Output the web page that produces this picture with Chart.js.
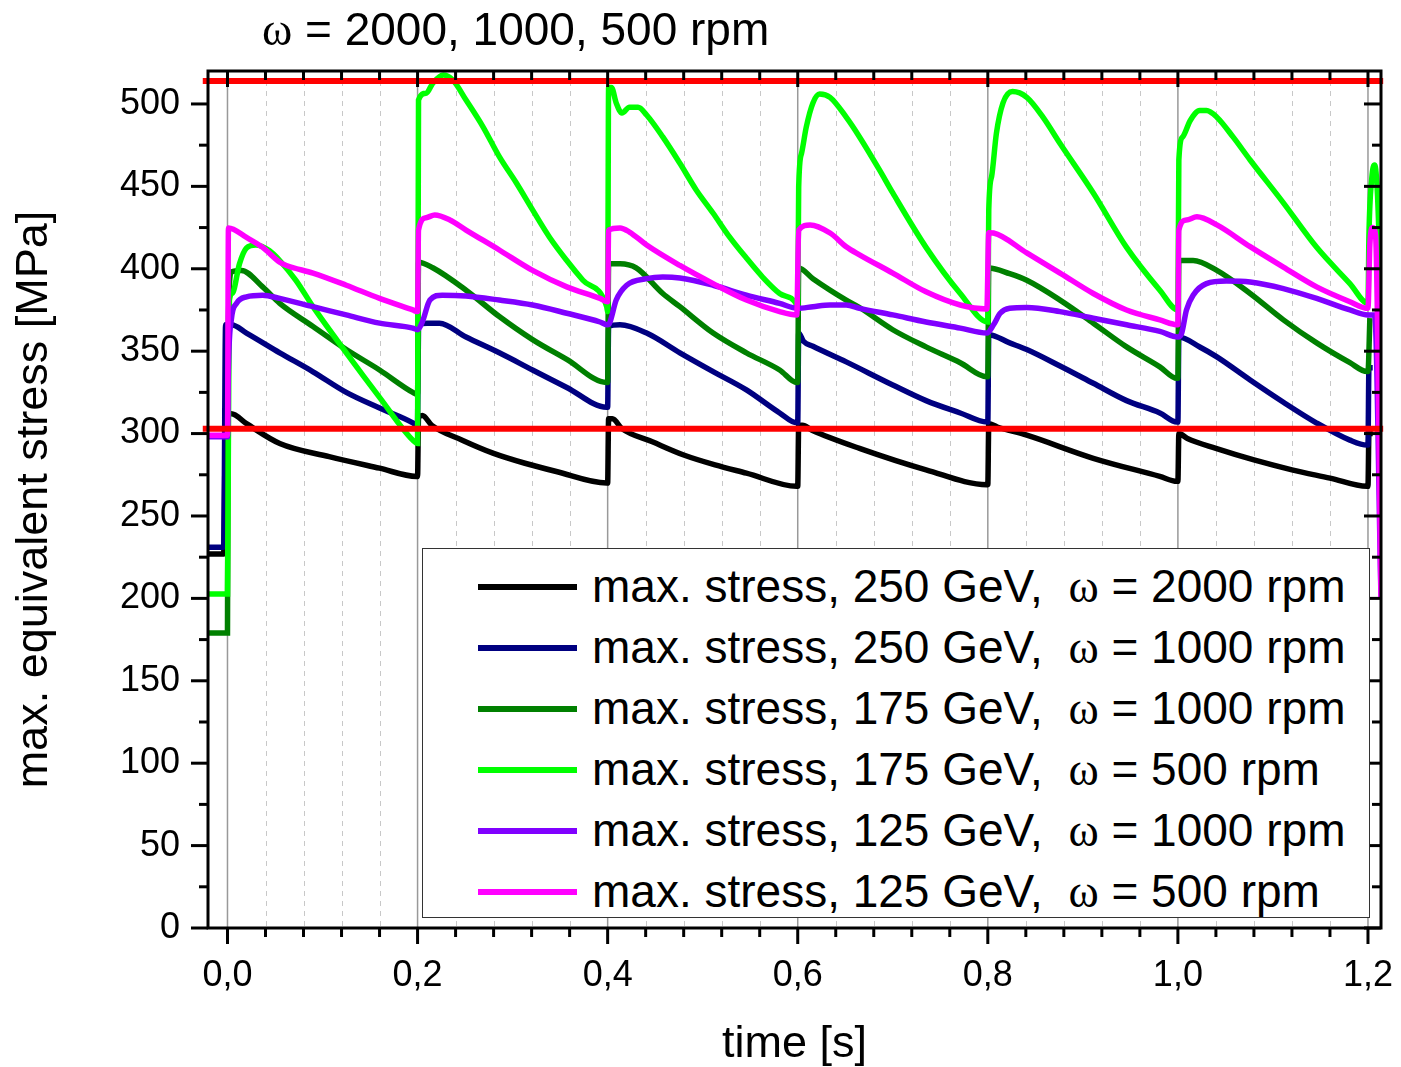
<!DOCTYPE html>
<html>
<head>
<meta charset="utf-8">
<title>max. equivalent stress</title>
<script src="https://cdn.jsdelivr.net/npm/chart.js@4.4.1/dist/chart.umd.min.js"></script>
<style>
  html, body { margin: 0; padding: 0; background: #fff; }
  #wrap { position: relative; width: 1401px; height: 1067px; font-family: "Liberation Sans", Arial, sans-serif; color: #000; }
  #stressChart { position: absolute; left: 0; top: 0; }
  #title { position: absolute; left: 262px; top: 6px; font-size: 46px; line-height: 46px; white-space: nowrap; }
  .omega { font-family: "Liberation Serif", "Times New Roman", serif; }
  #legend { position: absolute; left: 422px; top: 548px; width: 948px; height: 370px; box-sizing: border-box;
            border: 1.5px solid #333; background: #fff; padding-top: 6.5px; }
  .row { height: 61px; display: flex; align-items: center; font-size: 46px; line-height: 61px; white-space: nowrap; }
  .swatch { width: 99px; height: 6px; margin-left: 55px; margin-right: 15px; position: relative; top: 1px; }
</style>
</head>
<body>
<div id="wrap">
  <canvas id="stressChart" width="1401" height="1067"></canvas>
  <div id="title"><span class="omega">ω</span> = 2000, 1000, 500 rpm</div>
  <div id="legend"></div>
</div>
<script>
const FONT = '"Liberation Sans", Arial, sans-serif';

// axis range and ticks
const xMin = -0.0205, xMax = 1.2137;
const yMin = 0, yMax = 520;
const xTicks = [0, 0.2, 0.4, 0.6, 0.8, 1.0, 1.2];
const yTicks = [0, 50, 100, 150, 200, 250, 300, 350, 400, 450, 500];

// limit lines [MPa]
const limitUpper = 514;
const limitLower = 303;
const limitSpan = [-0.026, 1.216];

// time [s], stress [MPa]
const s250_2000 = [
  [-0.021, 227], [-0.004, 227], [-0.002, 311], [0.004, 312], [0.02, 306], [0.055, 294], [0.107, 286], [0.16, 279], [0.199, 274],
  [0.2, 274], [0.201, 310], [0.205, 311], [0.215, 305], [0.247, 296], [0.28, 288], [0.313, 282], [0.346, 277], [0.399, 270],
  [0.4, 270], [0.401, 309], [0.405, 309], [0.415, 303], [0.447, 295], [0.48, 287], [0.513, 281], [0.546, 276], [0.599, 268],
  [0.6, 268], [0.601, 305], [0.605, 305], [0.615, 302], [0.665, 291], [0.735, 278], [0.799, 269],
  [0.8, 269], [0.801, 306], [0.81, 304], [0.841, 299], [0.911, 285], [0.981, 274], [0.999, 271],
  [1.0, 271], [1.001, 300], [1.01, 297], [1.04, 291], [1.08, 284], [1.12, 278], [1.16, 273], [1.199, 268],
  [1.2, 268], [1.201, 300], [1.205, 300]
];
const s250_1000 = [
  [-0.021, 231], [-0.004, 231], [-0.002, 366], [0.004, 366], [0.02, 361], [0.055, 349], [0.09, 337.5], [0.125, 325], [0.16, 315.5], [0.195, 306.5], [0.199, 305],
  [0.2, 305], [0.201, 366], [0.21, 367], [0.223, 367], [0.251, 358.6], [0.286, 349], [0.321, 338.6], [0.357, 328], [0.399, 316],
  [0.4, 316], [0.401, 365], [0.413, 366], [0.441, 361], [0.476, 349], [0.511, 337.6], [0.546, 326.5], [0.581, 312.5], [0.599, 306.5],
  [0.6, 306.5], [0.601, 361], [0.606, 356], [0.616, 353], [0.651, 343.5], [0.7, 329.5], [0.735, 320], [0.771, 312.5], [0.799, 307],
  [0.8, 307], [0.801, 360], [0.823, 355], [0.841, 351], [0.876, 341], [0.911, 330.5], [0.946, 320], [0.981, 312.5], [0.999, 307],
  [1.0, 307], [1.001, 358.6], [1.023, 352.5], [1.041, 346.5], [1.076, 332.5], [1.111, 319], [1.146, 306.4], [1.181, 296], [1.199, 293],
  [1.2, 293], [1.201, 340], [1.205, 340]
];
const s175_1000 = [
  [-0.021, 179], [0.0, 179], [0.001, 370], [0.004, 398], [0.0147, 399], [0.037, 389], [0.055, 379], [0.09, 365], [0.125, 351], [0.16, 338.6], [0.195, 325], [0.199, 324],
  [0.2, 324], [0.201, 404], [0.216, 400.6], [0.251, 387], [0.286, 371], [0.321, 357], [0.357, 345], [0.399, 331],
  [0.4, 331], [0.401, 403], [0.413, 403], [0.43, 400.5], [0.458, 385], [0.476, 377], [0.511, 361], [0.546, 349], [0.581, 338.6], [0.599, 331],
  [0.6, 331], [0.601, 400.5], [0.616, 394], [0.651, 381], [0.665, 376.5], [0.7, 363], [0.735, 352.6], [0.771, 343], [0.799, 334.5],
  [0.8, 334.5], [0.801, 400.5], [0.823, 397], [0.841, 393], [0.876, 381], [0.911, 367], [0.946, 352.6], [0.981, 340.5], [0.999, 333.5],
  [1.0, 333.5], [1.001, 405], [1.016, 405], [1.041, 399], [1.076, 385], [1.111, 369], [1.146, 355], [1.181, 343], [1.199, 337.6],
  [1.2, 337.6], [1.202, 370]
];
const s175_500 = [
  [-0.021, 202.7], [0.0, 202.7], [0.001, 300], [0.002, 381], [0.005, 385], [0.0126, 403], [0.02, 412.6], [0.03, 414.4], [0.044, 411], [0.055, 405], [0.072, 393], [0.09, 377], [0.125, 349], [0.16, 322], [0.195, 296], [0.2, 294],
  [0.201, 502.4], [0.209, 506.5], [0.216, 512.6], [0.227, 517.6], [0.237, 514.6], [0.251, 502.4], [0.269, 486], [0.286, 468], [0.304, 452], [0.321, 435.7], [0.339, 419], [0.357, 405], [0.374, 393], [0.399, 377],
  [0.4, 374], [0.401, 510], [0.404, 510], [0.409, 500.6], [0.415, 494.5], [0.423, 498], [0.432, 498], [0.441, 493.3], [0.458, 480], [0.476, 464], [0.493, 448], [0.511, 433.7], [0.528, 419.5], [0.546, 406.5], [0.563, 395], [0.581, 385], [0.599, 378],
  [0.6, 376], [0.601, 449.6], [0.604, 470], [0.609, 486], [0.616, 500.6], [0.623, 506], [0.634, 504], [0.651, 492], [0.665, 480], [0.686, 460], [0.7, 446], [0.735, 413], [0.771, 385], [0.8, 367.7],
  [0.801, 435.7], [0.804, 456], [0.809, 482], [0.816, 500.6], [0.826, 507.5], [0.841, 504], [0.858, 492], [0.876, 476], [0.911, 446], [0.946, 413], [0.981, 387], [1.0, 375],
  [1.001, 466], [1.005, 480], [1.013, 490], [1.023, 496], [1.03, 496], [1.041, 492], [1.058, 480], [1.076, 466], [1.111, 440], [1.146, 413], [1.181, 391], [1.2, 379],
  [1.201, 420], [1.204, 455], [1.207, 463], [1.21, 445], [1.2137, 380]
];
const s125_1000 = [
  [-0.021, 298], [0.0, 298], [0.001, 340], [0.004, 369], [0.0095, 379], [0.02, 383], [0.037, 384], [0.055, 382], [0.09, 377], [0.125, 372], [0.16, 367], [0.195, 364], [0.2, 363],
  [0.205, 367.7], [0.213, 381], [0.226, 384], [0.251, 383.5], [0.286, 381], [0.321, 378], [0.357, 373], [0.392, 367.7], [0.4, 366],
  [0.402, 367], [0.409, 381], [0.42, 390], [0.441, 394], [0.458, 395], [0.476, 394.4], [0.511, 390], [0.546, 384], [0.581, 379], [0.6, 376],
  [0.616, 377], [0.634, 378], [0.651, 378], [0.665, 376], [0.7, 372], [0.735, 367.7], [0.771, 364], [0.799, 361],
  [0.806, 366], [0.813, 373], [0.823, 376], [0.841, 376.5], [0.876, 374], [0.911, 370], [0.946, 366], [0.981, 362], [1.0, 358.6],
  [1.004, 361], [1.009, 375], [1.016, 384], [1.03, 391], [1.051, 392.6], [1.076, 392], [1.111, 388], [1.146, 382], [1.181, 375], [1.2, 372],
  [1.207, 372], [1.2137, 200]
];
const s125_500 = [
  [-0.021, 299], [0.0, 299], [0.001, 424.8], [0.02, 419], [0.037, 413], [0.055, 404], [0.062, 402], [0.09, 397.4], [0.125, 390], [0.16, 382], [0.195, 375], [0.2, 374],
  [0.201, 423.5], [0.209, 431], [0.218, 432.6], [0.234, 429.6], [0.251, 423.5], [0.286, 411.4], [0.321, 399], [0.357, 389], [0.392, 382], [0.4, 380],
  [0.401, 423.5], [0.413, 424.8], [0.423, 422.3], [0.441, 414.4], [0.476, 402], [0.511, 391], [0.546, 381], [0.581, 374], [0.599, 372],
  [0.601, 423.5], [0.613, 426.6], [0.634, 421.7], [0.651, 413.4], [0.665, 408.5], [0.7, 397.4], [0.735, 386], [0.771, 378], [0.799, 375.6],
  [0.801, 421.9], [0.806, 421.7], [0.841, 409.6], [0.876, 397.4], [0.911, 385], [0.946, 375], [0.981, 369], [1.0, 366],
  [1.001, 423.5], [1.009, 429.6], [1.02, 431.5], [1.041, 426.6], [1.076, 413.4], [1.111, 401], [1.146, 389], [1.181, 380], [1.2, 376],
  [1.202, 415], [1.205, 425], [1.208, 420], [1.2137, 200]
];

const seriesLabels = [
  "max. stress, 250 GeV,  ω = 2000 rpm",
  "max. stress, 250 GeV,  ω = 1000 rpm",
  "max. stress, 175 GeV,  ω = 1000 rpm",
  "max. stress, 175 GeV,  ω = 500 rpm",
  "max. stress, 125 GeV,  ω = 1000 rpm",
  "max. stress, 125 GeV,  ω = 500 rpm"
];
const seriesData = [s250_2000, s250_1000, s175_1000, s175_500, s125_1000, s125_500];
const seriesColors = ["#000000", "#000080", "#008000", "#00ff00", "#8000ff", "#ff00ff"];
const drawOrder = [6, 5, 4, 3, 2, 1]; // magenta on top, black at the bottom

const toPoints = (arr) => arr.map(([x, y]) => ({ x, y }));

const datasets = seriesData.map((d, i) => ({
  label: seriesLabels[i],
  data: toPoints(d),
  borderColor: seriesColors[i],
  borderWidth: 5.5,
  pointRadius: 0,
  showLine: true,
  cubicInterpolationMode: "monotone",
  order: drawOrder[i],
}));

[limitUpper, limitLower].forEach((v) => {
  datasets.push({
    label: "limit",
    data: limitSpan.map((x) => ({ x, y: v })),
    borderColor: "#ff0000",
    borderWidth: 6,
    pointRadius: 0,
    showLine: true,
    clip: false,
    order: 0,
  });
});

// minor ticks between the labelled ones
const xMinor = [];
for (let i = 0; i < xTicks.length - 1; i++) {
  for (let k = 1; k < 5; k++) xMinor.push(xTicks[i] + (k * (xTicks[i + 1] - xTicks[i])) / 5);
}
const yMinor = yTicks.map((v) => v + 25).filter((v) => v < yMax);

// grid lines under the data, frame and tick marks on top
const framePlugin = {
  id: "frame",
  beforeDatasetsDraw(chart) {
    const { ctx, chartArea: a, scales } = chart;
    const x = scales.x;
    ctx.save();
    ctx.lineWidth = 1;
    ctx.strokeStyle = "#c8c8c8";
    ctx.setLineDash([5, 5]);
    xMinor.forEach((v) => {
      const px = Math.round(x.getPixelForValue(v)) + 0.5;
      ctx.beginPath(); ctx.moveTo(px, a.top); ctx.lineTo(px, a.bottom); ctx.stroke();
    });
    ctx.setLineDash([]);
    ctx.strokeStyle = "#999999";
    ctx.lineWidth = 1.5;
    xTicks.forEach((v) => {
      const px = x.getPixelForValue(v);
      ctx.beginPath(); ctx.moveTo(px, a.top); ctx.lineTo(px, a.bottom); ctx.stroke();
    });
    ctx.restore();
  },
  afterDatasetsDraw(chart) {
    const { ctx, chartArea: a, scales } = chart;
    const x = scales.x, y = scales.y;
    ctx.save();
    ctx.strokeStyle = "#000";
    ctx.lineWidth = 3;
    ctx.strokeRect(a.left, a.top, a.right - a.left, a.bottom - a.top);
    const seg = (x0, y0, x1, y1) => { ctx.beginPath(); ctx.moveTo(x0, y0); ctx.lineTo(x1, y1); ctx.stroke(); };
    xTicks.forEach((v) => {
      const px = x.getPixelForValue(v);
      seg(px, a.bottom, px, a.bottom + 16);
      seg(px, a.top, px, a.top + 16);
    });
    xMinor.forEach((v) => {
      const px = x.getPixelForValue(v);
      seg(px, a.bottom, px, a.bottom + 9);
      seg(px, a.top, px, a.top + 9);
    });
    yTicks.forEach((v) => {
      const py = y.getPixelForValue(v);
      seg(a.left - 17, py, a.left, py);
      seg(a.right - 17, py, a.right, py);
    });
    yMinor.forEach((v) => {
      const py = y.getPixelForValue(v);
      seg(a.left - 9, py, a.left, py);
      seg(a.right - 9, py, a.right, py);
    });
    ctx.restore();
  },
};

const ctx = document.getElementById("stressChart").getContext("2d");
const stressChart = new Chart(ctx, {
  type: "scatter",
  data: { datasets },
  plugins: [framePlugin],
  options: {
    responsive: false,
    animation: false,
    devicePixelRatio: 1,
    layout: { padding: { top: 71, right: 20, left: 0, bottom: 0 } },
    plugins: { legend: { display: false }, tooltip: { enabled: false } },
    scales: {
      x: {
        type: "linear",
        min: xMin,
        max: xMax,
        afterFit: (s) => { s.height = 139; s.paddingLeft = 0; s.paddingRight = 0; },
        afterBuildTicks: (s) => { s.ticks = xTicks.map((v) => ({ value: v })); },
        grid: { display: false, drawTicks: false },
        border: { display: false },
        ticks: {
          color: "#000",
          padding: 26,
          maxRotation: 0,
          autoSkip: false,
          font: { family: FONT, size: 36 },
          callback: (v) => v.toFixed(1).replace(".", ","),
        },
        title: {
          display: true,
          text: "time [s]",
          color: "#000",
          font: { family: FONT, size: 45, lineHeight: 1 },
          padding: { top: 0, bottom: 0 },
        },
      },
      y: {
        min: yMin,
        max: yMax,
        afterFit: (s) => { s.width = 208; s.paddingTop = 0; s.paddingBottom = 0; },
        afterBuildTicks: (s) => { s.ticks = yTicks.map((v) => ({ value: v })); },
        grid: { display: false, drawTicks: false },
        border: { display: false },
        ticks: {
          color: "#000",
          padding: 28,
          autoSkip: false,
          font: { family: FONT, size: 36 },
        },
        title: {
          display: true,
          text: "max. equivalent stress [MPa]",
          color: "#000",
          font: { family: FONT, size: 45, lineHeight: 1 },
          padding: { top: 12, bottom: 0 },
        },
      },
    },
  },
});

// legend box built from the series
const legendEl = document.getElementById("legend");
seriesLabels.forEach((label, i) => {
  const row = document.createElement("div");
  row.className = "row";
  const sw = document.createElement("span");
  sw.className = "swatch";
  sw.style.background = seriesColors[i];
  row.appendChild(sw);
  const parts = label.split("ω");
  const txt = document.createElement("span");
  txt.appendChild(document.createTextNode(parts[0].replace(/  /, "\u00a0 ")));
  const om = document.createElement("span");
  om.className = "omega";
  om.textContent = "ω";
  txt.appendChild(om);
  txt.appendChild(document.createTextNode(parts[1]));
  row.appendChild(txt);
  legendEl.appendChild(row);
});
</script>
</body>
</html>
